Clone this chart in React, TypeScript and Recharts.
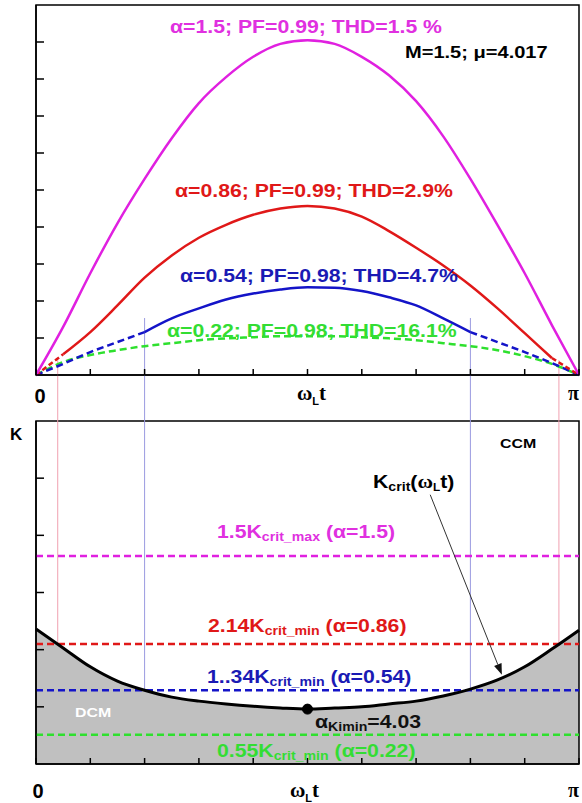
import React from 'react';
import {
  ComposedChart,
  Line,
  Area,
  XAxis,
  YAxis,
  ReferenceLine,
  ReferenceArea,
  ReferenceDot,
} from 'recharts';

// ωLt as a fraction of π
const wt = [0, 0.05, 0.1, 0.15, 0.2, 0.25, 0.3, 0.35, 0.4, 0.45, 0.5, 0.55, 0.6, 0.65, 0.7, 0.75, 0.8, 0.85, 0.9, 0.95, 1];
const xTicks = [0, 0.1, 0.2, 0.3, 0.4, 0.5, 0.6, 0.7, 0.8, 0.9, 1];

// upper panel: line current curves
const curveA150 = [0, 1.3, 2.75, 4.1, 5.3, 6.4, 7.35, 8.05, 8.6, 8.95, 9.05, 8.95, 8.6, 8.1, 7.4, 6.45, 5.3, 4.05, 2.75, 1.35, 0];
const curveA086 = [0, 0.56, 1.16, 1.88, 2.63, 3.23, 3.71, 4.06, 4.33, 4.5, 4.57, 4.5, 4.28, 3.89, 3.44, 2.96, 2.42, 1.8, 1.13, 0.46, 0];
const curveA054 = [0, 0.3, 0.62, 0.89, 1.16, 1.53, 1.8, 2.04, 2.2, 2.31, 2.37, 2.36, 2.27, 2.1, 1.88, 1.53, 1.16, 0.89, 0.62, 0.32, 0];
const curveA022 = [0, 0.35, 0.54, 0.67, 0.78, 0.86, 0.94, 0.99, 1.02, 1.05, 1.05, 1.05, 1.02, 0.99, 0.94, 0.86, 0.78, 0.67, 0.51, 0.3, 0];
const topTicks = [1, 2, 3, 4, 5, 6, 7, 8, 9];

// lower panel: K_crit(ωLt) and the K levels
const kCrit = [2.36, 2.03, 1.7, 1.45, 1.29, 1.17, 1.1, 1.05, 1.01, 0.98, 0.96, 0.98, 1.0, 1.05, 1.1, 1.19, 1.31, 1.47, 1.7, 2.01, 2.34];
const kLevels = [3.64, 2.1, 1.29, 0.51]; // α = 1.5, 0.86, 0.54, 0.22
const levelColors = ['#e020e0', '#e01818', '#1414c8', '#2ee02e'];
const bottomTicks = [1, 2, 3, 4, 5];

// where the DCM/CCM boundaries sit (fraction of π)
const pinkCross = [0.04, 0.963];
const blueCross = [0.2, 0.8];
const pinkTop = 0.4;
const blueTop = 1.54;
const kMinAt = 10; // index of the minimum in kCrit
const arrowFrom = { x: 0.726, y: 4.71 };
const arrowTo = { x: 0.858, y: 1.56 };

const topRows = wt.map((w, i) => ({
  wt: w,
  a150: curveA150[i],
  a086: w >= 0.05 && w <= 0.95 ? curveA086[i] : null,
  a086d: w <= 0.05 || w >= 0.95 ? curveA086[i] : null,
  a054: w >= 0.2 && w <= 0.8 ? curveA054[i] : null,
  a054d: w <= 0.2 || w >= 0.8 ? curveA054[i] : null,
  a022: curveA022[i],
}));

const bottomRows = wt.map((w, i) => ({ wt: w, k: kCrit[i] }));

const SANS = '"Liberation Sans", Arial, sans-serif';
const SERIF = '"Liberation Serif", "Times New Roman", serif';
const SX = 1.18;

// no tick labels, only the inner tick marks
const NoLabel = () => <g />;

function Lbl({ x, y, color = '#000', size = 18, anchor = 'start', children }: any) {
  return (
    <g transform={`translate(${x},${y}) scale(${SX},1)`}>
      <text x={0} y={0} fill={color} fontSize={size} fontWeight="bold" fontFamily={SANS} textAnchor={anchor}>
        {children}
      </text>
    </g>
  );
}

function Kcrit({ sub, size = 18, subSize = 12 }: any) {
  return (
    <>
      <tspan fontSize={size}>K</tspan>
      <tspan fontSize={subSize} dy={3}>{sub}</tspan>
    </>
  );
}

function WLt({ x, y }: any) {
  return (
    <text x={x} y={y} fontWeight="bold" fill="#000">
      <tspan fontFamily={SERIF} fontSize={21}>ω</tspan>
      <tspan fontFamily={SANS} fontSize={11} dy={5}>L</tspan>
      <tspan fontFamily={SERIF} fontSize={21} dy={-5}>t</tspan>
    </text>
  );
}

const Arrow = (p: any) => {
  const { x1, y1, x2, y2 } = p;
  const a = Math.atan2(y2 - y1, x2 - x1);
  const L = 11;
  const W = 4;
  const bx = x2 - L * Math.cos(a);
  const by = y2 - L * Math.sin(a);
  const pts = `${x2},${y2} ${bx + W * Math.sin(a)},${by - W * Math.cos(a)} ${bx - W * Math.sin(a)},${by + W * Math.cos(a)}`;
  return (
    <g>
      <line x1={x1} y1={y1} x2={bx} y2={by} stroke="#333" strokeWidth={1} />
      <polygon points={pts} fill="#111" />
    </g>
  );
};

export default function App() {
  return (
    <div style={{ position: 'absolute', left: 0, top: 0, width: 582, height: 803, background: '#fff' }}>
      <div style={{ position: 'absolute', left: 0, top: 0 }}>
        <ComposedChart width={582} height={410} data={topRows} margin={{ top: 5, right: 3, bottom: 0, left: 0 }}>
          <XAxis
            dataKey="wt"
            type="number"
            domain={[0, 1]}
            ticks={xTicks}
            tick={NoLabel}
            tickSize={-6}
            height={35}
            axisLine={{ stroke: '#000', strokeWidth: 1.5 }}
            tickLine={{ stroke: '#000', strokeWidth: 1.5 }}
          />
          <YAxis
            type="number"
            domain={[0, 10]}
            ticks={topTicks}
            tick={NoLabel}
            tickSize={-8}
            width={36}
            axisLine={{ stroke: '#000', strokeWidth: 1.5 }}
            tickLine={{ stroke: '#000', strokeWidth: 1.5 }}
          />
          <ReferenceArea x1={0} x2={1} y1={0} y2={10} fill="none" stroke="#000" strokeWidth={1.5} />
          {pinkCross.map((x) => (
            <ReferenceLine key={'p' + x} segment={[{ x, y: pinkTop }, { x, y: -1.2 }]} stroke="#f0a0b0" strokeWidth={1} ifOverflow="visible" />
          ))}
          {blueCross.map((x) => (
            <ReferenceLine key={'b' + x} segment={[{ x, y: blueTop }, { x, y: -1.2 }]} stroke="#9a9ae0" strokeWidth={1} ifOverflow="visible" />
          ))}
          <Line dataKey="a022" type="monotone" stroke="#2ee02e" strokeWidth={2.5} strokeDasharray="7 4" dot={false} isAnimationActive={false} />
          <Line dataKey="a054d" type="monotone" stroke="#1414c8" strokeWidth={2.5} strokeDasharray="7 4" dot={false} isAnimationActive={false} />
          <Line dataKey="a054" type="monotone" stroke="#1414c8" strokeWidth={2.5} dot={false} isAnimationActive={false} />
          <Line dataKey="a086d" type="monotone" stroke="#e01818" strokeWidth={2.5} strokeDasharray="5 3" dot={false} isAnimationActive={false} />
          <Line dataKey="a086" type="monotone" stroke="#e01818" strokeWidth={2.5} dot={false} isAnimationActive={false} />
          <Line dataKey="a150" type="monotone" stroke="#e020e0" strokeWidth={2.5} dot={false} isAnimationActive={false} />
        </ComposedChart>
      </div>

      <div style={{ position: 'absolute', left: 0, top: 410 }}>
        <ComposedChart width={582} height={393} data={bottomRows} margin={{ top: 11, right: 3, bottom: 0, left: 0 }}>
          <XAxis
            dataKey="wt"
            type="number"
            domain={[0, 1]}
            ticks={xTicks}
            tick={NoLabel}
            tickSize={-6}
            height={39}
            axisLine={{ stroke: '#000', strokeWidth: 1.5 }}
            tickLine={{ stroke: '#000', strokeWidth: 1.5 }}
          />
          <YAxis
            type="number"
            domain={[0, 6]}
            ticks={bottomTicks}
            tick={NoLabel}
            tickSize={-8}
            width={36}
            axisLine={{ stroke: '#000', strokeWidth: 1.5 }}
            tickLine={{ stroke: '#000', strokeWidth: 1.5 }}
          />
          <Area dataKey="k" type="monotone" fill="#c0c0c0" fillOpacity={1} stroke="none" isAnimationActive={false} />
          {pinkCross.map((x) => (
            <ReferenceLine key={'p' + x} segment={[{ x, y: 6.5 }, { x, y: kLevels[1] }]} stroke="#f0a0b0" strokeWidth={1} ifOverflow="visible" />
          ))}
          {blueCross.map((x) => (
            <ReferenceLine key={'b' + x} segment={[{ x, y: 6.5 }, { x, y: kLevels[2] }]} stroke="#9a9ae0" strokeWidth={1} ifOverflow="visible" />
          ))}
          {kLevels.map((k, i) => (
            <ReferenceLine key={'k' + i} y={k} stroke={levelColors[i]} strokeWidth={2.5} strokeDasharray="7 4" />
          ))}
          <Line dataKey="k" type="monotone" stroke="#000" strokeWidth={3} dot={false} isAnimationActive={false} />
          <ReferenceDot x={wt[kMinAt]} y={kCrit[kMinAt]} r={5} fill="#000" stroke="#000" />
          <ReferenceLine segment={[arrowFrom, arrowTo]} shape={Arrow} ifOverflow="visible" />
          <ReferenceArea x1={0} x2={1} y1={0} y2={6} fill="none" stroke="#000" strokeWidth={1.5} />
        </ComposedChart>
      </div>

      <svg width={582} height={803} style={{ position: 'absolute', left: 0, top: 0, pointerEvents: 'none' }}>
        {/* upper panel */}
        <Lbl x={170} y={33} color="#e030e0">α=1.5; PF=0.99; THD=1.5 %</Lbl>
        <Lbl x={405} y={58} size={17}>M=1.5; μ=4.017</Lbl>
        <Lbl x={175} y={197} color="#e01818">α=0.86; PF=0.99; THD=2.9%</Lbl>
        <Lbl x={180} y={282} color="#1a1ab4">α=0.54; PF=0.98; THD=4.7%</Lbl>
        <Lbl x={167} y={337} color="#33dd33">α=0.22; PF=0.98; THD=16.1%</Lbl>
        <text x={40} y={403} fontSize={20} fontWeight="bold" fontFamily={SANS} textAnchor="middle">0</text>
        <WLt x={297} y={400} />
        <text x={568} y={400} fontSize={20} fontWeight="bold" fontFamily={SERIF}>π</text>

        {/* lower panel */}
        <text x={10} y={440} fontSize={17} fontWeight="bold" fontFamily={SANS}>K</text>
        <Lbl x={500} y={448} size={13.5}>CCM</Lbl>
        <g transform={`translate(373,488) scale(${SX},1)`}>
          <text x={0} y={0} fontWeight="bold" fontFamily={SANS} fill="#000">
            <Kcrit sub="crit" />
            <tspan fontSize={18} dy={-3}>(</tspan>
            <tspan fontSize={18} fontFamily={SERIF}>ω</tspan>
            <tspan fontSize={10} dy={3}>L</tspan>
            <tspan fontSize={18} dy={-3}>t)</tspan>
          </text>
        </g>
        <g transform={`translate(217,538) scale(${SX},1)`}>
          <text x={0} y={0} fontWeight="bold" fontFamily={SANS} fill="#e030e0">
            <tspan fontSize={18}>1.5</tspan>
            <Kcrit sub="crit_max" />
            <tspan fontSize={18} dy={-3}> (α=1.5)</tspan>
          </text>
        </g>
        <g transform={`translate(208,632) scale(${SX},1)`}>
          <text x={0} y={0} fontWeight="bold" fontFamily={SANS} fill="#e01818">
            <tspan fontSize={18}>2.14</tspan>
            <Kcrit sub="crit_min" />
            <tspan fontSize={18} dy={-3}> (α=0.86)</tspan>
          </text>
        </g>
        <g transform={`translate(207,683) scale(${SX},1)`}>
          <text x={0} y={0} fontWeight="bold" fontFamily={SANS} fill="#1a1ab4">
            <tspan fontSize={18}>1..34</tspan>
            <Kcrit sub="crit_min" />
            <tspan fontSize={18} dy={-3}> (α=0.54)</tspan>
          </text>
        </g>
        <Lbl x={75} y={717} size={13.5} color="#fff">DCM</Lbl>
        <g transform={`translate(315,728) scale(${SX},1)`}>
          <text x={0} y={0} fontWeight="bold" fontFamily={SANS} fill="#111">
            <tspan fontSize={18}>α</tspan>
            <tspan fontSize={12} dy={3}>Kimin</tspan>
            <tspan fontSize={18} dy={-3}>=4.03</tspan>
          </text>
        </g>
        <g transform={`translate(217,757) scale(${SX},1)`}>
          <text x={0} y={0} fontWeight="bold" fontFamily={SANS} fill="#33dd33">
            <tspan fontSize={18}>0.55</tspan>
            <Kcrit sub="crit_min" />
            <tspan fontSize={18} dy={-3}> (α=0.22)</tspan>
          </text>
        </g>
        <text x={38} y={798} fontSize={20} fontWeight="bold" fontFamily={SANS} textAnchor="middle">0</text>
        <WLt x={290} y={797} />
        <text x={568} y={797} fontSize={20} fontWeight="bold" fontFamily={SERIF}>π</text>
      </svg>
    </div>
  );
}
